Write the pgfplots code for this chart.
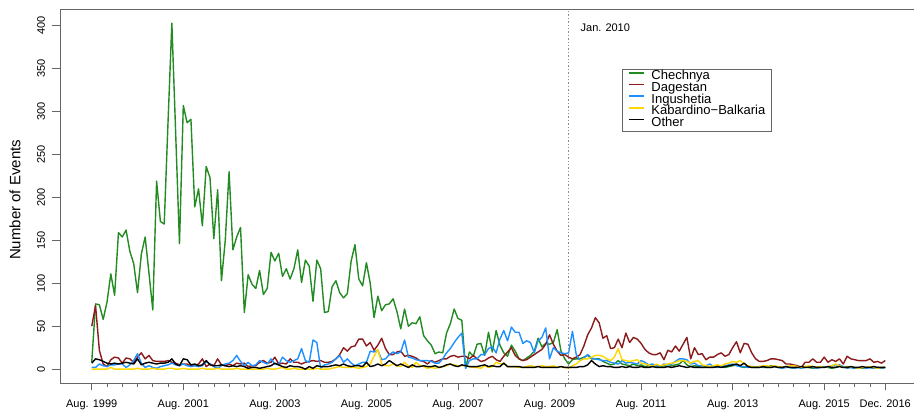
\documentclass[border=0pt]{standalone}
\usepackage{fontspec}
\setmainfont{Liberation Sans}
\usepackage{pgfplots}
\usepackage{pgfplotstable}
\pgfplotsset{compat=1.18}

\definecolor{chechnya}{HTML}{228B22}
\definecolor{dagestan}{HTML}{8B1A1A}
\definecolor{ingushetia}{HTML}{1E90FF}
\definecolor{kabbalk}{HTML}{FFD700}

% Monthly event counts, month 0 = Aug. 1999, month 208 = Dec. 2016
\pgfplotstableread{
m che dag ing kab oth
0 8 50 2 0 7
1 76 74 2 0 12
2 75 22 6 0 11
3 58 6 4 0 9
4 78 3 3 0 7
5 111 11 5 2 6
6 86 14 5 0 7
7 159 13 6 0 6
8 154 7 6 0 7
9 162 13 2 0 8
10 137 12 5 0 7
11 123 8 10 0 6
12 89 14 18 1 12
13 134 19 7 0 5
14 154 12 2 0 7
15 112 16 4 0 8
16 69 10 2 1 7
17 219 9 1 0 6
18 172 9 3 0 7
19 169 9 4 0 7
20 288 10 5 1 8
21 403 8 7 1 12
22 275 7 5 0 6
23 146 5 4 0 4
24 307 6 6 1 12
25 287 6 4 0 11
26 291 4 3 0 5
27 189 4 4 0 6
28 210 6 3 0 4
29 167 12 4 1 5
30 236 3 9 0 10
31 223 6 6 0 5
32 152 4 3 0 4
33 209 12 1 1 4
34 103 5 4 0 5
35 150 4 6 0 4
36 230 6 7 0 3
37 139 4 10 0 4
38 154 7 16 1 3
39 165 6 9 0 4
40 66 7 4 0 3
41 110 3 8 0 1
42 99 4 4 0 2
43 94 4 5 0 2
44 115 8 10 0 1
45 87 10 8 0 2
46 94 7 6 1 3
47 136 8 12 0 4
48 126 14 6 0 7
49 135 6 5 1 5
50 108 7 14 2 3
51 117 6 10 0 2
52 105 12 8 0 4
53 117 8 10 1 3
54 139 8 12 0 3
55 101 6 24 0 2
56 127 8 10 0 0
57 120 9 8 0 3
58 79 10 34 0 1
59 127 9 31 1 4
60 117 10 1 0 3
61 66 8 5 0 3
62 67 8 6 0 3
63 96 9 8 1 4
64 103 12 12 2 5
65 89 17 16 3 4
66 83 25 8 2 6
67 88 21 12 2 4
68 126 26 7 2 3
69 145 27 4 2 4
70 105 35 6 1 4
71 97 35 8 2 3
72 124 27 8 3 8
73 100 31 21 6 3
74 60 22 20 15 4
75 85 28 22 23 6
76 68 36 11 6 4
77 75 24 12 4 6
78 76 17 17 4 10
79 82 17 20 6 7
80 67 20 18 4 4
81 47 21 20 3 6
82 70 15 34 8 4
83 50 16 14 4 2
84 54 15 13 2 5
85 53 13 11 8 3
86 61 10 10 4 3
87 39 9 10 3 4
88 33 6 10 1 3
89 28 10 9 2 3
90 18 8 7 1 4
91 20 10 7 2 2
92 19 12 12 3 3
93 42 12 19 4 5
94 53 15 24 6 6
95 70 16 31 5 4
96 59 14 37 4 3
97 57 15 42 4 5
98 1 15 1 4 4
99 20 12 10 3 3
100 15 16 12 2 3
101 29 12 12 2 3
102 30 9 17 1 4
103 16 10 17 4 5
104 43 13 24 2 3
105 20 15 26 3 4
106 45 11 19 8 3
107 28 9 35 6 3
108 19 15 45 7 7
109 15 20 33 3 3
110 28 25 49 3 3
111 21 16 43 3 3
112 12 12 43 2 3
113 10 10 30 2 2
114 13 11 33 3 2
115 16 14 31 4 2
116 21 17 19 3 2
117 36 20 33 3 3
118 26 23 37 4 2
119 30 29 48 3 2
120 29 40 12 3 2
121 31 29 25 4 2
122 46 21 21 2 2
123 21 16 19 3 3
124 12 17 18 2 2
125 6 14 19 1 2
126 11 12 44 4 2
127 12 14 17 6 2
128 12 17 10 10 3
129 14 27 13 12 3
130 16 40 17 12 5
131 12 48 13 14 10
132 12 60 12 16 6
133 12 54 11 16 3
134 9 36 10 15 4
135 7 39 10 12 3
136 5 24 8 10 3
137 6 25 7 14 2
138 10 35 6 24 2
139 6 25 10 11 3
140 5 42 7 10 2
141 4 31 8 9 3
142 6 37 7 10 2
143 4 35 6 11 2
144 5 30 10 7 3
145 3 23 8 6 2
146 4 19 5 5 2
147 3 17 6 3 3
148 4 17 4 6 2
149 3 19 3 4 2
150 4 11 6 5 2
151 3 22 5 6 3
152 4 20 6 7 2
153 5 27 9 8 3
154 6 21 12 10 4
155 10 29 12 10 3
156 5 37 11 9 2
157 3 12 6 7 3
158 4 25 7 9 2
159 3 17 4 10 2
160 2 18 4 5 2
161 3 11 4 4 2
162 2 14 6 3 2
163 3 14 3 4 2
164 4 17 2 5 3
165 3 19 3 4 2
166 2 15 4 6 3
167 3 17 5 7 4
168 4 25 6 9 5
169 5 32 4 8 6
170 3 19 3 10 4
171 2 30 3 6 7
172 3 29 2 4 3
173 2 19 3 3 2
174 2 12 2 2 2
175 3 9 2 3 2
176 2 9 3 4 3
177 2 10 2 4 2
178 4 12 2 3 2
179 3 12 3 4 3
180 2 11 2 3 2
181 2 10 1 2 2
182 3 6 2 3 3
183 2 6 2 4 2
184 1 5 1 4 2
185 2 4 2 3 2
186 2 2 1 2 3
187 3 8 2 3 2
188 2 8 3 4 2
189 1 12 2 3 3
190 2 8 1 2 2
191 2 8 2 3 2
192 3 14 3 2 2
193 2 8 2 3 3
194 1 11 4 4 2
195 2 9 5 6 2
196 4 12 5 4 3
197 2 6 3 2 2
198 3 15 1 2 2
199 2 12 2 3 3
200 1 11 1 2 2
201 2 10 1 1 2
202 1 10 2 2 3
203 2 10 1 2 2
204 2 12 2 3 2
205 1 8 1 2 3
206 2 9 2 1 2
207 1 7 1 2 2
208 2 10 2 2 2
}\events

\begin{document}
\begin{tikzpicture}
\useasboundingbox (0pt,0pt) rectangle (914pt,412pt);
\begin{axis}[
  at={(60pt,29pt)}, anchor=south west,
  scale only axis, width=857pt, height=373.7pt,
  xmin=-8.32, xmax=216.32, ymin=-16.12, ymax=419.12,
  axis line style={black!60, line width=0.6pt},
  tick align=outside, tick pos=left,
  major tick length=7.5pt, minor tick length=4pt,
  every tick/.style={black!60, line width=0.6pt},
  xtick={0,24,48,72,96,120,144,168,192,208},
  xticklabels={Aug. 1999,Aug. 2001,Aug. 2003,Aug. 2005,Aug. 2007,Aug. 2009,Aug. 2011,Aug. 2013,Aug. 2015,Dec. 2016},
  minor xtick={4,8,...,204},
  ytick={0,50,...,400},
  /pgf/number format/assume math mode=true,
  tick label style={font=\fontsize{11}{13}\selectfont},
  yticklabel style={rotate=90, anchor=south},
  yticklabel shift=4pt,
  xticklabel shift=5.5pt,
  ylabel={\fontsize{15}{17}\selectfont Number of Events},
  ylabel style={at={(axis description cs:-0.0525,0.49)}, anchor=center},
  legend cell align=left,
  legend style={at={(axis cs:138.9,350)}, anchor=north west,
    draw=black!60,
    font=\fontsize{13}{11.7}\selectfont,
    inner xsep=6pt, inner ysep=2pt, row sep=0pt,
    nodes={inner sep=0pt, text height=9pt, text depth=2.7pt},
    /tikz/every odd column/.append style={column sep=7pt}},
  legend image code/.code={\draw[#1, line width=1.6pt] (0pt,3.9pt) -- (15pt,3.9pt);},
  every axis plot/.append style={line width=1.4pt, line join=round},
]
\addplot[draw=chechnya] table[x=m, y=che] {\events};
\addlegendentry{Chechnya}
\addplot[draw=dagestan] table[x=m, y=dag] {\events};
\addlegendentry{Dagestan}
\addplot[draw=ingushetia] table[x=m, y=ing] {\events};
\addlegendentry{Ingushetia}
\addplot[draw=kabbalk] table[x=m, y=kab] {\events};
\addlegendentry{Kabardino−Balkaria}
\addplot[draw=black] table[x=m, y=oth] {\events};
\addlegendentry{Other}
% Jan. 2010 marker
\addplot[black!45, dotted, line width=0.9pt, forget plot] coordinates {(125,-16.12) (125,419.12)};
\node[anchor=west, inner sep=0pt, font=\fontsize{11}{13}\selectfont] at (axis cs:128.1,397.7) {Jan. 2010};
\end{axis}
\end{tikzpicture}
\end{document}
